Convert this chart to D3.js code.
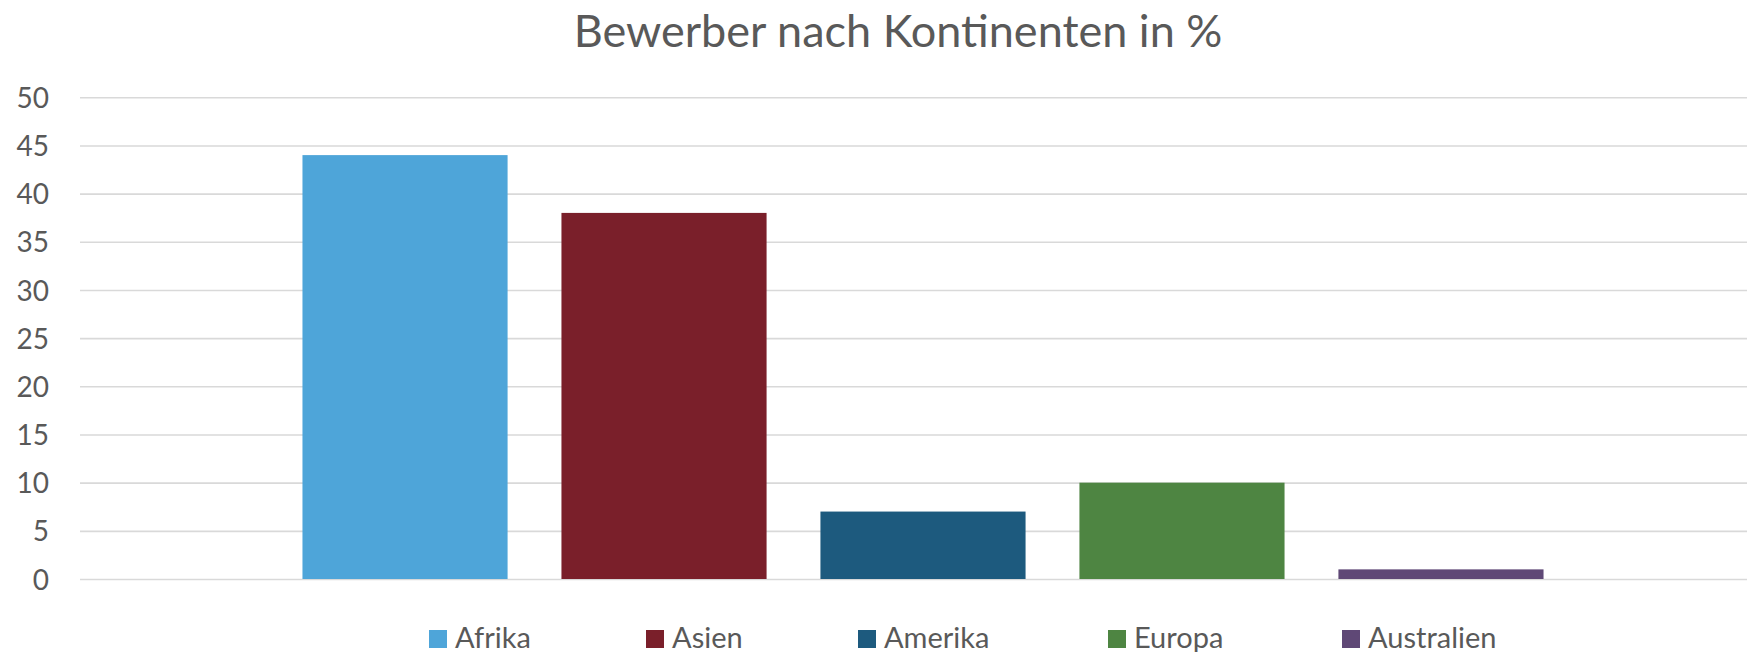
<!DOCTYPE html>
<html>
<head>
<meta charset="utf-8">
<script src="https://cdn.jsdelivr.net/npm/d3@7"></script>
<style>
  body { margin: 0; background: #fff; }
  svg { display: block; font-family: Lato, "Open Sans", sans-serif; }
</style>
</head>
<body>
<svg id="chart"></svg>
<script>
// data
var continents = ["Afrika", "Asien", "Amerika", "Europa", "Australien"];
var shares = [44, 38, 7, 10, 1];
var colours = ["#4ea5d9", "#7a1f2a", "#1d5a7e", "#4e8542", "#5f4876"];
var yTicks = [0, 5, 10, 15, 20, 25, 30, 35, 40, 45, 50];

var width = 1747, height = 652;
var plotLeft = 80, plotRight = 1766, plotTop = 97.3, plotBottom = 579;

var svg = d3.select("#chart")
  .attr("width", width)
  .attr("height", height);

var y = d3.scaleLinear().domain([0, 50]).range([plotBottom, plotTop]);

var x = d3.scaleBand()
  .domain(continents)
  .range([plotLeft, plotRight])
  .paddingInner(0.208)
  .paddingOuter(0.859);

var colour = d3.scaleOrdinal().domain(continents).range(colours);

// gridlines + y labels
var yAxis = svg.append("g")
  .attr("transform", "translate(" + plotLeft + ",0)")
  .call(d3.axisLeft(y).tickValues(yTicks).tickSize(-(width - plotLeft)).tickPadding(31));

yAxis.select(".domain").remove();
yAxis.selectAll(".tick line")
  .attr("stroke", "#d9d9d9")
  .attr("stroke-width", 1.6);
yAxis.selectAll(".tick text")
  .attr("fill", "#595959")
  .attr("dy", "0.36em")
  .style("font-size", "28px")
  .style("font-family", "Lato, 'Open Sans', sans-serif");

// bars
svg.selectAll("rect.bar")
  .data(continents)
  .enter().append("rect")
  .attr("class", "bar")
  .attr("x", function(d) { return x(d); })
  .attr("width", x.bandwidth())
  .attr("y", function(d, i) { return y(shares[i]); })
  .attr("height", function(d, i) { return y(0) - y(shares[i]); })
  .attr("fill", function(d) { return colour(d); });

// title
svg.append("text")
  .attr("x", 898)
  .attr("y", 47)
  .attr("text-anchor", "middle")
  .attr("fill", "#595959")
  .style("font-size", "45px")
  .text("Bewerber nach Kontinenten in %");

// legend
var legendX = [429, 646, 858, 1108, 1342];
var legend = svg.selectAll("g.legend")
  .data(continents)
  .enter().append("g")
  .attr("class", "legend")
  .attr("transform", function(d, i) { return "translate(" + legendX[i] + ",630)"; });

legend.append("rect")
  .attr("width", 18)
  .attr("height", 18)
  .attr("fill", function(d) { return colour(d); });

legend.append("text")
  .attr("x", 26)
  .attr("y", 18)
  .attr("fill", "#595959")
  .style("font-size", "29px")
  .text(function(d) { return d; });
</script>
</body>
</html>
